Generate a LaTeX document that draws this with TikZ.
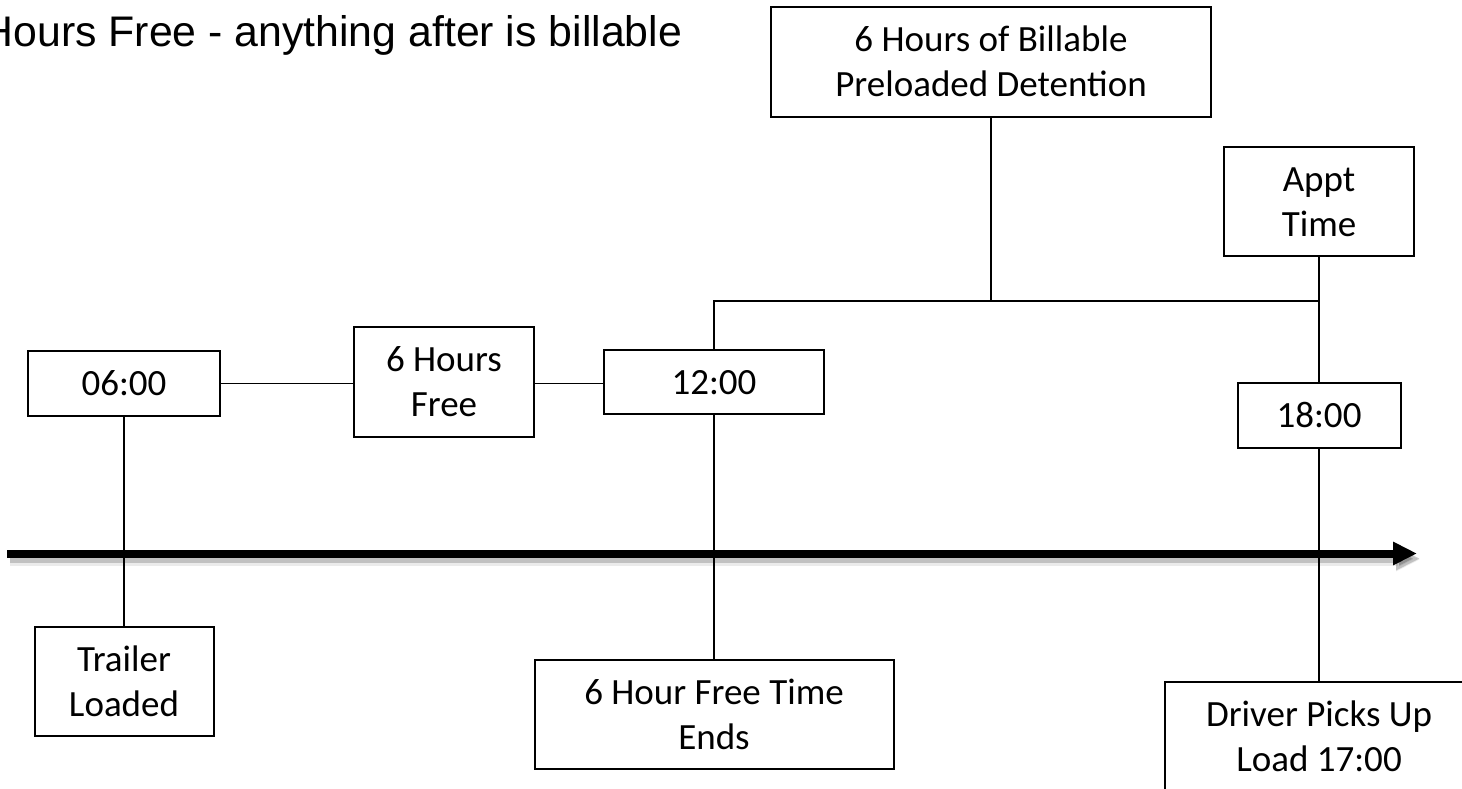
\documentclass[tikz,border=0pt]{standalone}
\usepackage{fontspec}
\setmainfont{Carlito}
\newfontfamily\titlefont{Liberation Sans}
\usetikzlibrary{arrows.meta}
\newcommand\topstrut{\rule{0pt}{30pt}}
\newcommand\botstrut{\rule[-6pt]{0pt}{6pt}}
\begin{document}
\begin{tikzpicture}[x=1pt,y=-1pt,
  box/.style={draw=black, line width=2pt, fill=white, align=center, inner sep=0pt,
    font=\fontsize{37}{45}\selectfont},
  conn/.style={draw=black, line width=1.6pt},
  timeline/.style={line width=8pt, -{Triangle[length=24pt,width=22pt]}},
  tlshadow/.style={line width=9pt, draw=black, opacity=0.18, -{Triangle[length=24pt,width=22pt]}}
]
\useasboundingbox (0,0) rectangle (1462,788);

% title
\node[anchor=base west, inner sep=0pt, font=\titlefont\fontsize{42.8}{50}\selectfont] (title) at (-17.5,46) {Hours Free - anything after is billable};

% timeline arrow
\coordinate (ta) at (7,553.5);
\coordinate (tb) at (1417,553.5);
\draw[tlshadow] ([shift={(3,5)}]ta) -- ([shift={(3,5)}]tb);
\draw[tlshadow, line width=12pt, opacity=0.08] ([shift={(3,6)}]ta) -- ([shift={(3,6)}]tb);
\draw[timeline] (ta) -- (tb);

% boxes
\node[box, minimum width=440pt, minimum height=110pt] (bill) at (991,62) {\topstrut 6 Hours of Billable\\Preloaded Detention\botstrut};
\node[box, minimum width=190pt, minimum height=109pt] (appt) at (1319,201.5) {\topstrut Appt\\Time\botstrut};
\node[box, minimum width=163pt, minimum height=65pt] (n18) at (1319,415.5) {\topstrut 18:00\botstrut};
\node[box, minimum width=192pt, minimum height=65pt] (n06) at (124,383.5) {\topstrut 06:00\botstrut};
\node[box, minimum width=180pt, minimum height=110pt] (free) at (444,382) {\topstrut 6 Hours\\Free\botstrut};
\node[box, minimum width=220pt, minimum height=64pt] (n12) at (714,382) {\topstrut 12:00\botstrut};
\node[box, minimum width=179pt, minimum height=109pt] (trailer) at (124,681.5) {\topstrut Trailer\\Loaded\botstrut};
\node[box, minimum width=359pt, minimum height=109pt] (ends) at (714,714.5) {\topstrut 6 Hour Free Time\\Ends\botstrut};
\node[box, minimum width=308pt, minimum height=109pt] (driver) at (1319,736.5) {\topstrut Driver Picks Up\\Load 17:00\botstrut};

% connectors
\coordinate (bk) at (991,301);
\draw[conn] (n06.east) -- (n06.east -| free.west);
\draw[conn] (free.east |- n06.east) -- (n12.west |- n06.east);
\draw[conn] (n06.south) -- (trailer.north);
\draw[conn] (n12.south) -- (ends.north);
\draw[conn] (n12.north) |- (bk);
\draw[conn] (bill.south) -- (bk);
\draw[conn] (bk) -- (bk -| appt.south);
\draw[conn] (appt.south) -- (n18.north);
\draw[conn] (n18.south) -- (driver.north);
\end{tikzpicture}
\end{document}
